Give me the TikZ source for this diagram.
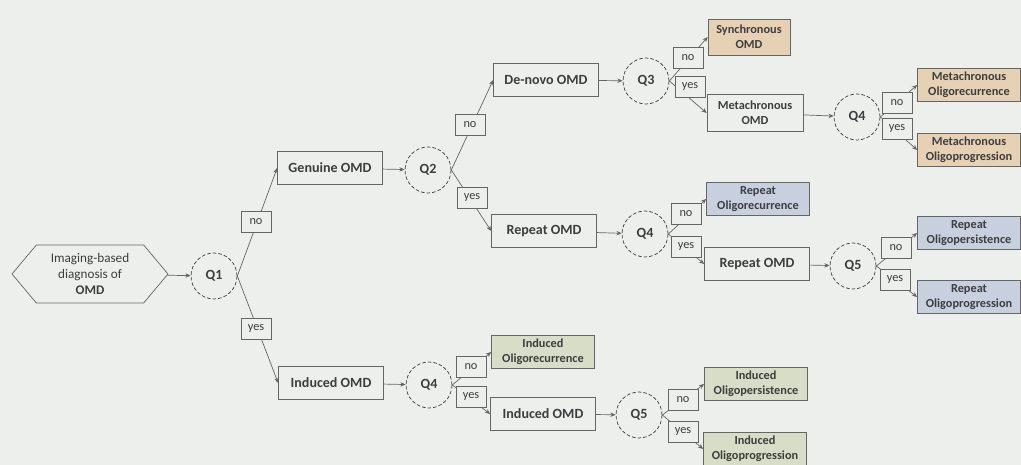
\documentclass[tikz,border=0pt]{standalone}
\usepackage{fontspec}
\setmainfont{Carlito}
\usetikzlibrary{arrows.meta,shapes.symbols}

\definecolor{bgcol}{HTML}{EDEFEC}
\definecolor{linecol}{HTML}{646664}
\definecolor{inkcol}{HTML}{3C3E3F}
\definecolor{tancol}{HTML}{E6D1B4}
\definecolor{bluecol}{HTML}{C8D0DF}
\definecolor{greencol}{HTML}{D8DDC8}

\tikzset{
	stage/.style={draw=linecol, fill=bgcol, text=inkcol, align=center, inner sep=1pt,
		minimum width=2.1cm, minimum height=0.66cm, font=\bfseries\fontsize{8}{9}\selectfont},
	result/.style={stage, minimum width=2.06cm, font=\bfseries\fontsize{7}{8.5}\selectfont},
	question/.style={circle, draw=inkcol, dash pattern=on 2pt off 1.2pt, minimum size=0.92cm,
		inner sep=0pt, text=inkcol, font=\bfseries\fontsize{8}{9}\selectfont},
	answer/.style={draw=linecol, fill=bgcol, text=inkcol, inner sep=0pt,
		minimum width=0.6cm, minimum height=0.42cm, font=\fontsize{7}{8}\selectfont},
	link/.style={draw=linecol, -{Stealth[length=3pt,width=2.5pt]}},
}

\begin{document}
\begin{tikzpicture}[x=0.02cm, y=-0.02cm]
	\fill[bgcol] (0,0) rectangle (1021,465);
	\useasboundingbox (0,0) rectangle (1021,465);

	% start and first question
	\node[signal, signal to=west and east, signal pointer angle=100, draw=linecol, fill=bgcol,
		text=inkcol, align=center, minimum width=3.12cm, minimum height=1.16cm, inner sep=0pt,
		font=\fontsize{7.5}{9}\selectfont] (start) at (90,274) {Imaging-based\\diagnosis of\\\textbf{OMD}};
	\node[question] (q1) at (214,276) {Q1};

	% genuine branch
	\node[stage] (genuine) at (330,168) {Genuine OMD};
	\node[question] (q2) at (428,170) {Q2};
	\node[stage] (denovo) at (546,80) {De-novo OMD};
	\node[question] (q3) at (646,81) {Q3};
	\node[result, fill=tancol, minimum width=1.64cm, minimum height=0.72cm] (sync) at (749,37) {Synchronous\\OMD};
	\node[result, minimum width=1.92cm, minimum height=0.74cm] (metach) at (755,113) {Metachronous\\OMD};
	\node[question] (q4a) at (857,117) {Q4};
	\node[result, fill=tancol] (metarec) at (969,85) {Metachronous\\Oligorecurrence};
	\node[result, fill=tancol] (metaprog) at (969,150) {Metachronous\\Oligoprogression};

	\node[stage] (repeat) at (544,231) {Repeat OMD};
	\node[question] (q4b) at (645,234) {Q4};
	\node[result, fill=bluecol] (reprec) at (758,199) {Repeat\\Oligorecurrence};
	\node[stage] (repeatb) at (757,264) {Repeat OMD};
	\node[question] (q5a) at (853,266) {Q5};
	\node[result, fill=bluecol] (reppers) at (969,233) {Repeat\\Oligopersistence};
	\node[result, fill=bluecol] (repprog) at (969,297) {Repeat\\Oligoprogression};

	% induced branch
	\node[stage] (induced) at (331,383) {Induced OMD};
	\node[question] (q4c) at (429,385) {Q4};
	\node[result, fill=greencol] (indrec) at (543,352) {Induced\\Oligorecurrence};
	\node[stage] (inducedb) at (543,414) {Induced OMD};
	\node[question] (q5b) at (639,415) {Q5};
	\node[result, fill=greencol] (indpers) at (756,384) {Induced\\Oligopersistence};
	\node[result, fill=greencol] (indprog) at (755,449) {Induced\\Oligoprogression};

	% connectors
	\draw[link] (start) -- (q1);
	\draw[link] (genuine) -- (q2);
	\draw[link] (denovo) -- (q3);
	\draw[link] (metach) -- (q4a);
	\draw[link] (repeat) -- (q4b);
	\draw[link] (repeatb) -- (q5a);
	\draw[link] (induced) -- (q4c);
	\draw[link] (inducedb) -- (q5b);

	\draw[link] (q1.east) -- (genuine.west);
	\draw[link] (q1.east) -- (induced.west);
	\draw[link] (q2.east) -- (denovo.west);
	\draw[link] (q2.east) -- (repeat.west);
	\draw[link] (q3.east) -- (sync.west);
	\draw[link] (q3.east) -- (metach.west);
	\draw[link] (q4a.east) -- (metarec.west);
	\draw[link] (q4a.east) -- (metaprog.west);
	\draw[link] (q4b.east) -- (reprec.west);
	\draw[link] (q4b.east) -- (repeatb.west);
	\draw[link] (q5a.east) -- (reppers.west);
	\draw[link] (q5a.east) -- (repprog.west);
	\draw[link] (q4c.east) -- (indrec.west);
	\draw[link] (q4c.east) -- (inducedb.west);
	\draw[link] (q5b.east) -- (indpers.west);
	\draw[link] (q5b.east) -- (indprog.west);

	% answers
	\node[answer] (q1no) at (256,222) {no};
	\node[answer] (q1yes) at (256,329) {yes};
	\node[answer] (q2no) at (470,125) {no};
	\node[answer] (q2yes) at (472,198) {yes};
	\node[answer] (q3no) at (688,58) {no};
	\node[answer] (q3yes) at (690,87) {yes};
	\node[answer] (q4ano) at (897,103) {no};
	\node[answer] (q4ayes) at (897,129) {yes};
	\node[answer] (q4bno) at (686,214) {no};
	\node[answer] (q4byes) at (686,247) {yes};
	\node[answer] (q5ano) at (896,248) {no};
	\node[answer] (q5ayes) at (895,280) {yes};
	\node[answer] (q4cno) at (471,367) {no};
	\node[answer] (q4cyes) at (471,397) {yes};
	\node[answer] (q5bno) at (683,400) {no};
	\node[answer] (q5byes) at (683,432) {yes};
\end{tikzpicture}
\end{document}
